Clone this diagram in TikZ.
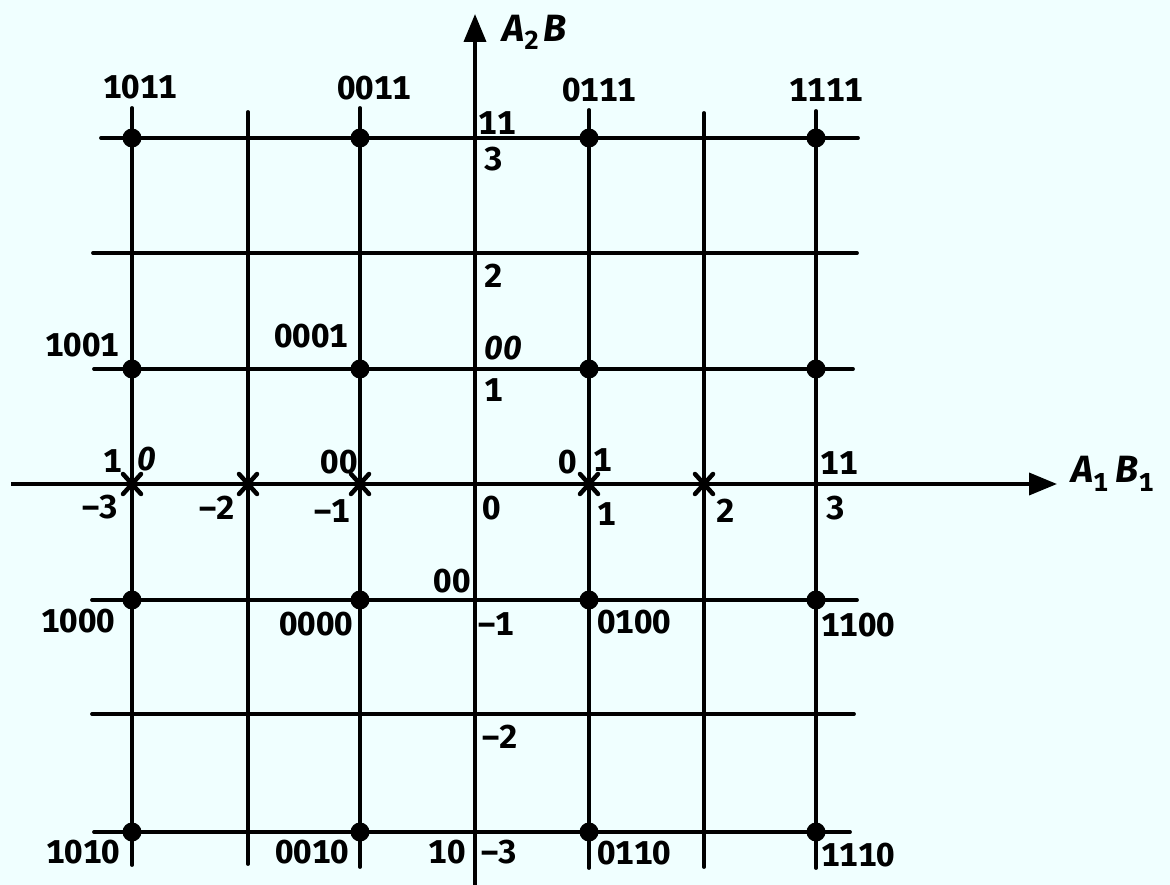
\documentclass[tikz,border=0pt]{standalone}
\usepackage{fontspec}
\setmainfont{Fira Sans}[Numbers=Monospaced]
\usetikzlibrary{arrows.meta}
\definecolor{bgc}{RGB}{240,255,255}
\tikzset{
  gridline/.style={line width=3.8pt, line cap=round},
  axisline/.style={line width=3.8pt, -{Triangle[length=28pt,width=22pt]}},
  dotnode/.style={circle, fill=black, inner sep=0pt, minimum size=19pt},
  lbl/.style={font=\bfseries\fontsize{33}{33}\selectfont, inner sep=0pt},
  slbl/.style={font=\bfseries\itshape\fontsize{33}{33}\selectfont, inner sep=0pt},
  axlbl/.style={font=\bfseries\fontsize{38}{38}\selectfont, inner sep=0pt, anchor=base west},
  xmark/.style={line width=4.5pt, line cap=round}
}
\begin{document}
\begin{tikzpicture}[x=1pt,y=-1pt]
\fill[bgc] (0,0) rectangle (1170,885);
\useasboundingbox (0,0) rectangle (1170,885);

% vertical grid lines
\draw[gridline] (132,108) -- (132,865);
\draw[gridline] (248,112) -- (248,864);
\draw[gridline] (360,108) -- (360,867);
\draw[gridline] (589,110) -- (589,868);
\draw[gridline] (704,113) -- (704,867);
\draw[gridline] (816,111) -- (816,868);
% horizontal grid lines
\draw[gridline] (101,138) -- (858,138);
\draw[gridline] (93,253) -- (857,253);
\draw[gridline] (94,369) -- (853,369);
\draw[gridline] (92,600) -- (857,600);
\draw[gridline] (92,714) -- (854,714);
\draw[gridline] (94,832) -- (850,832);

% axes
\coordinate (xs) at (11,484);
\coordinate (xe) at (1057,484);
\coordinate (ys) at (475,885);
\coordinate (ye) at (475,14);
\draw[axisline] (xs) -- (xe);
\draw[axisline] (ys) -- (ye);

% dots
\foreach \x/\n in {132/a,360/b,589/c,816/d}
  \foreach \y/\m in {138/1,369/2,600/3,832/4}
    \node[dotnode] (dot-\n\m) at (\x,\y) {};

% x marks on the horizontal axis
\foreach \x in {132,248,360,589,704}
  \draw[xmark] (\x-9,484-10) -- (\x+9,484+10) (\x-9,484+10) -- (\x+9,484-10);

% top labels
\node[lbl] (t1) at (140,87) {1011};
\node[lbl] (t2) at (374,88) {0011};
\node[lbl] (t3) at (599,90) {0111};
\node[lbl] (t4) at (826,90) {1111};

% vertical axis labels
\node[lbl] (v11) at (497,123) {11};
\node[lbl] (v3) at (494,159) {3};
\node[lbl] (v2) at (494,276) {2};
\node[slbl] (v00) at (503,348) {00};
\node[lbl] (v1) at (494,390) {1};
\node[lbl] (v0) at (492,508) {0};
\node[lbl] (vb00) at (452,581) {00};
\node[lbl] (vm1) at (496,624) {–1};
\node[lbl] (vm2) at (500,737) {–2};
\node[lbl] (v10) at (447,852) {10};
\node[lbl] (vm3) at (499,852) {–3};

% row 1 labels
\node[lbl] (r1a) at (82,345) {1001};
\node[lbl] (r1b) at (311,336) {0001};

% horizontal axis labels
\node[lbl] (h1a) at (113,461) {1};
\node[slbl] (h0a) at (147,459) {0};
\node[lbl] (hm3) at (100,507) {–3};
\node[lbl] (hm2) at (217,508) {–2};
\node[lbl] (h00) at (339,462) {00};
\node[lbl] (hm1) at (332,511) {–1};
\node[lbl] (h0b) at (568,462) {0};
\node[lbl] (h1b) at (603,460) {1};
\node[lbl] (h1) at (607,514) {1};
\node[lbl] (h2) at (726,511) {2};
\node[lbl] (h11) at (839,463) {11};
\node[lbl] (h3) at (836,508) {3};

% row -1 labels
\node[lbl] (m1a) at (78,621) {1000};
\node[lbl] (m1b) at (316,624) {0000};
\node[lbl] (m1c) at (634,622) {0100};
\node[lbl] (m1d) at (858,625) {1100};

% row -3 labels
\node[lbl] (m3a) at (83,852) {1010};
\node[lbl] (m3b) at (312,852) {0010};
\node[lbl] (m3c) at (634,853) {0110};
\node[lbl] (m3d) at (858,855) {1110};

% axis titles
\node[axlbl] (yt) at (502,42) {\textit{A}\raisebox{-8pt}{\fontsize{26}{26}\selectfont 2}\hspace{5pt}\textit{B}};
\node[axlbl] (xt) at (1071,482) {\textit{A}\raisebox{-9pt}{\fontsize{26}{26}\selectfont 1}\hspace{8pt}\textit{B}\raisebox{-9pt}{\fontsize{26}{26}\selectfont 1}};
\end{tikzpicture}
\end{document}
